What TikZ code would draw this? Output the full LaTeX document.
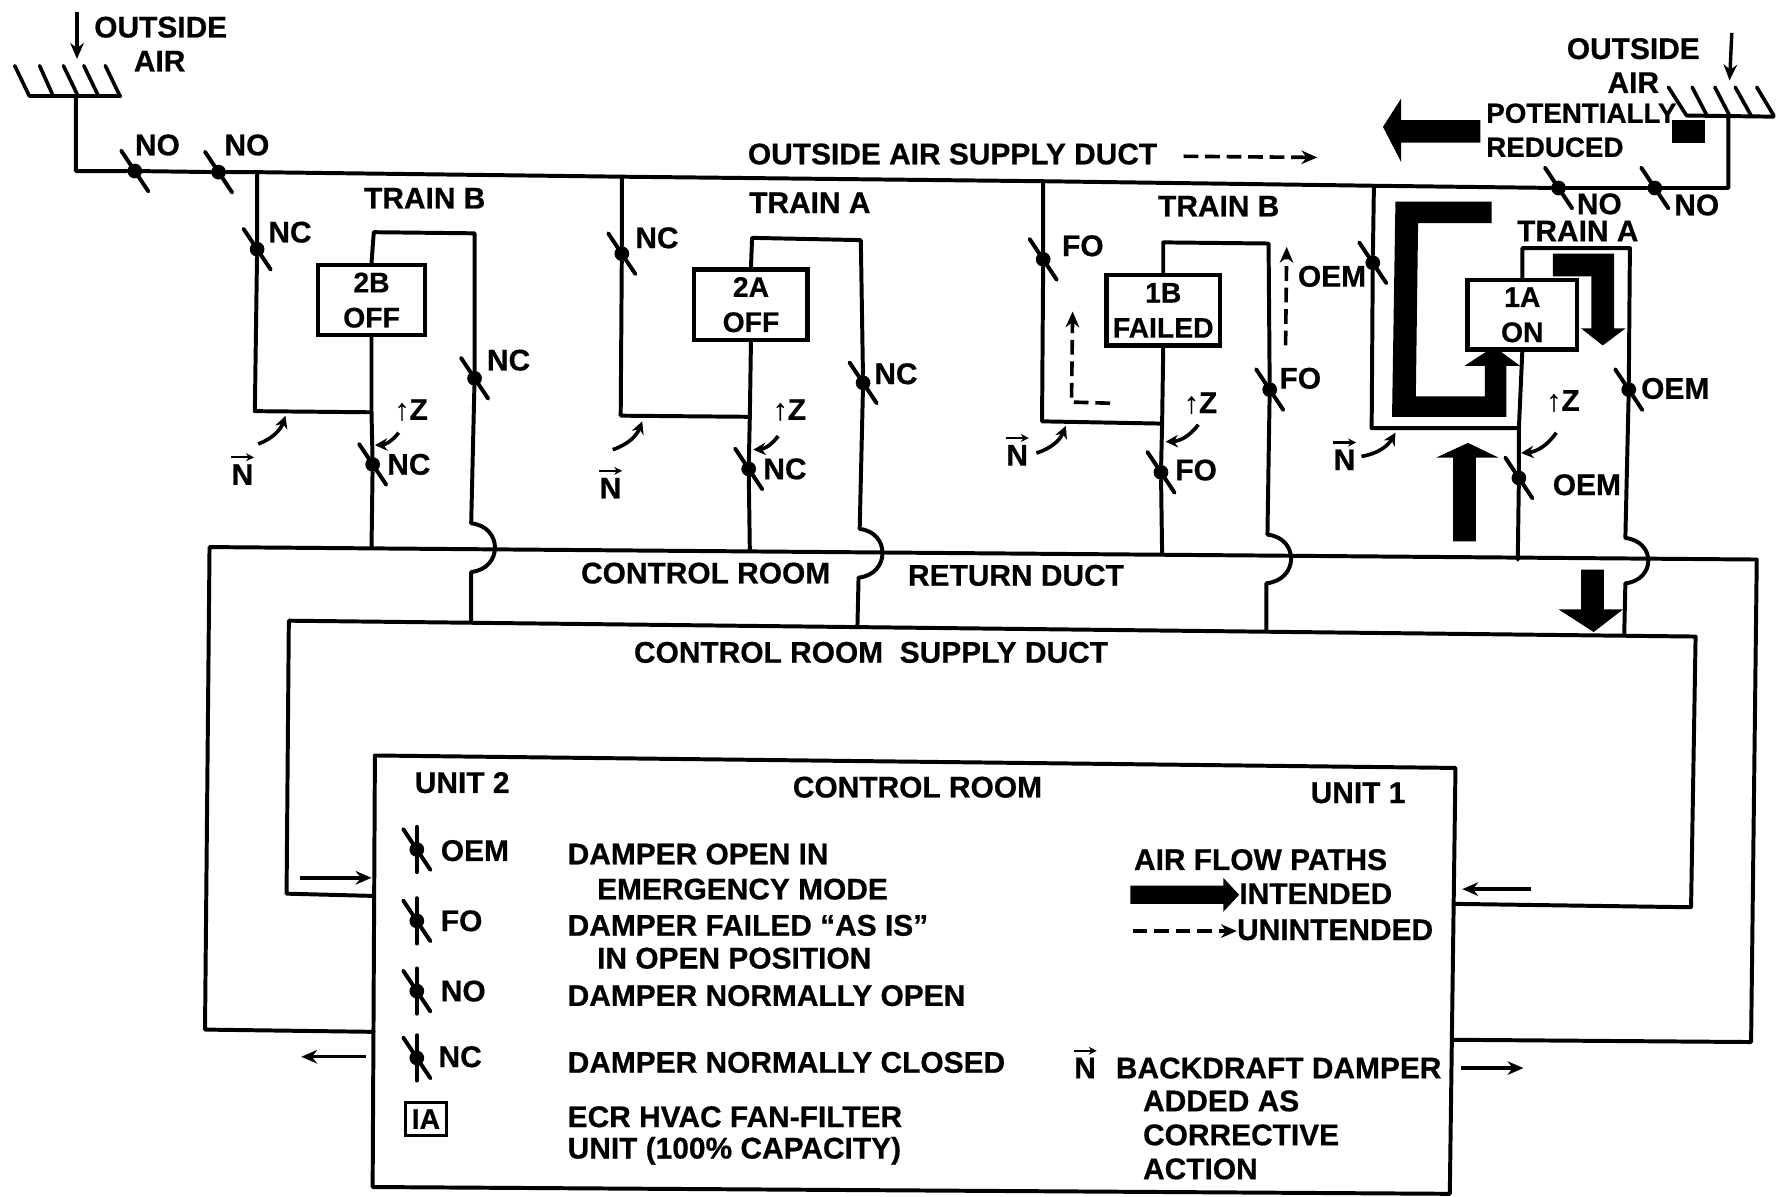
\documentclass[tikz,border=0pt]{standalone}
\usepackage{fontspec}
\setmainfont{Liberation Sans}[BoldFeatures={FakeBold=0.6}]
\usetikzlibrary{arrows.meta}
\tikzset{
  duct/.style={line width=3.5pt,line cap=round,line join=round},
  hatch/.style={line width=3.2pt,line cap=round},
  flowarrow/.style={line width=3pt,->,>={Stealth[length=14pt,width=12pt]}},
  unintended/.style={line width=3.2pt,dash pattern=on 13pt off 6pt,->,>={Stealth[length=14pt,width=12pt]}},
  bentarrow/.style={line width=3.2pt,->,>={Stealth[length=11pt,width=11pt]}},
  lbl/.style={font=\fontsize{26.4}{31}\selectfont\bfseries,inner sep=0pt,align=left},
  lblw/.style={lbl,anchor=west},
  smalllbl/.style={lblw,font=\fontsize{24.5}{31}\selectfont\bfseries},
  dmp/.style={circle,fill=black,inner sep=0pt,minimum size=13pt},
  fan/.style={draw,line width=3.8pt,fill=white,inner sep=0pt,align=center,font=\fontsize{25}{31}\selectfont\bfseries},
  heavy/.style={fill=black,draw=none}
}
% damper: the dot and its slash
\newcommand{\damper}[2]{
  \node[dmp] (#1) at (#2) {};
  \draw[duct] (#1) ++(-12,-18) -- ++(24,36);
}
% legend damper: same, with a stub of duct through it
\newcommand{\legdamper}[2]{
  \damper{#1}{#2}
  \draw[duct] (#1) ++(0,-20) -- ++(0,40);
}
% N with the arrow over it
\newcommand{\bdn}[2]{
  \node[lbl] (#1) at (#2) {N};
  \draw[line width=2pt,->,>={Stealth[length=7pt,width=7pt]}] (#1.north west) ++(0,-6) -- ++(20,0);
}
\begin{document}
\begin{tikzpicture}[x=1pt,y=-1pt]
  \useasboundingbox (0,0) rectangle (1568,1056);

  % Outside air intake, unit 2 side
  \foreach \a/\b in {13/26,35/47,56/69,74/87,93/106}
    \draw[hatch] (\a,58) -- (\b,85);
  \coordinate (intakel) at (67,85);
  \coordinate (cornerl) at (67,151);
  \coordinate (hoodla) at (27,85);
  \coordinate (hoodlb) at (106,85);
  \draw[duct] (hoodla) -- (hoodlb);
  \coordinate (airla) at (68,11);
  \coordinate (airlb) at (68,52);
  \draw[flowarrow] (airla) -- (airlb);
  \node[lblw] (outl) at (83,24) {OUTSIDE};
  \node[lblw] (airl) at (118,54) {AIR};

  % Outside air intake, unit 1 side
  \foreach \a/\b in {1473/1489,1494/1507,1514/1527,1532/1546,1551/1566}
    \draw[hatch] (\a,77) -- (\b,102);
  \coordinate (intaker) at (1526,102);
  \coordinate (cornerr) at (1526,166);
  \coordinate (hoodra) at (1489,102);
  \coordinate (hoodrb) at (1566,103);
  \draw[duct] (hoodra) -- (hoodrb);
  \coordinate (airra) at (1529,29);
  \coordinate (airrb) at (1527,71);
  \draw[flowarrow] (airra) -- (airrb);
  \node[lbl] (outr) at (1442,43) {OUTSIDE};
  \node[lbl] (airr) at (1442,73) {AIR};
  \node[smalllbl] (potent) at (1312,100) {POTENTIALLY};
  \node[smalllbl] (reduced) at (1312,130) {REDUCED};
  \fill[black] (1476,106) rectangle (1505,126);
  \fill[heavy] (1307,106) -- (1237,106) -- (1237,87) -- (1221,112) -- (1237,143) -- (1237,126) -- (1307,126) -- cycle;

  % Outside air supply duct
  \damper{nol}{119,151}
  \damper{nom}{193,152}
  \damper{nor}{1376,166}
  \damper{nos}{1461,166}
  \coordinate (j2b) at (227,152);
  \coordinate (j2a) at (549,156);
  \coordinate (j1b) at (921,160);
  \coordinate (j1a) at (1213,164);
  \draw[duct] (intakel) -- (cornerl) -- (nol) -- (nom) -- (j2b) -- (j2a) -- (j1b) -- (j1a) -- (nor) -- (nos) -- (cornerr) -- (intaker);
  \node[lbl] (nolab) at (139,128) {NO};
  \node[lbl] (nomlab) at (218,128) {NO};
  \node[lbl] (norlab) at (1412,180) {NO};
  \node[lbl] (noslab) at (1498,181) {NO};
  \node[lbl] (supplab) at (841,136) {OUTSIDE AIR SUPPLY DUCT};
  \coordinate (unia) at (1045,138);
  \coordinate (unib) at (1163,139);
  \draw[unintended] (unia) -- (unib);

  % Return and supply ducts
  \coordinate (rtl) at (185,483);
  \coordinate (rtr) at (1551,494);
  \coordinate (rbl) at (181,909);
  \coordinate (rbr) at (1546,920);
  \coordinate (rinl) at (330,911);
  \coordinate (rinr) at (1283,918);
  \draw[duct] (rinl) -- (rbl) -- (rtl) -- (rtr) -- (rbr) -- (rinr);
  \coordinate (stl) at (255,548);
  \coordinate (str) at (1497,562);
  \coordinate (sbl) at (253,789);
  \coordinate (sbr) at (1493,801);
  \coordinate (sinl) at (330,791);
  \coordinate (sinr) at (1284,798);
  \draw[duct] (sinl) -- (sbl) -- (stl) -- (str) -- (sbr) -- (sinr);
  \node[lbl] (crret) at (623,506) {CONTROL ROOM};
  \node[lbl] (retlab) at (897,508) {RETURN DUCT};
  \node[lbl] (crsup) at (769,576) {CONTROL ROOM\ \ SUPPLY DUCT};

  % Train B, unit 2
  \node[lbl] (tr2b) at (375,175) {TRAIN B};
  \node[fan,minimum width=95pt,minimum height=62pt] (fan2b) at (328,265) {2B\\OFF};
  \damper{dnc2b}{227,220}
  \damper{dfan2b}{329,410}
  \damper{dout2b}{419,334}
  \coordinate (bl2b) at (225,363);
  \coordinate (br2b) at (328,364);
  \coordinate (rj2b) at (328,484);
  \coordinate (tl2b) at (330,205);
  \coordinate (tr2bc) at (419,206);
  \coordinate (ha2b) at (416,462);
  \coordinate (hb2b) at (416,505);
  \coordinate (sj2b) at (416,549);
  \draw[duct] (j2b) -- (dnc2b) -- (bl2b) -- (br2b);
  \draw[duct] (fan2b.south) -- (br2b) -- (dfan2b) -- (rj2b);
  \draw[duct] (fan2b.north) -- (tl2b) -- (tr2bc) -- (dout2b) -- (ha2b) .. controls (444,465) and (444,502) .. (hb2b) -- (sj2b);
  \node[lbl] (ncx2b) at (256,205) {NC};
  \node[lbl] (ncf2b) at (361,410) {NC};
  \node[lbl] (nco2b) at (449,318) {NC};
  \node[lbl] (z2b) at (363,362) {↑Z};
  \bdn{n2b}{214,419}
  \draw[bentarrow] (228,392) to[bend right=25] (252,367);
  \draw[bentarrow] (352,382) to[bend left=25] (331,393);

  % Train A, unit 2
  \node[lbl] (tr2a) at (715,179) {TRAIN A};
  \node[fan,minimum width=100pt,minimum height=62pt] (fan2a) at (663,269) {2A\\OFF};
  \damper{dnc2a}{549,224}
  \damper{dfan2a}{661,414}
  \damper{dout2a}{762,338}
  \coordinate (bl2a) at (548,367);
  \coordinate (br2a) at (662,368);
  \coordinate (rj2a) at (662,486);
  \coordinate (tl2a) at (664,210);
  \coordinate (tr2ac) at (760,212);
  \coordinate (ha2a) at (759,467);
  \coordinate (hb2a) at (758,510);
  \coordinate (sj2a) at (757,553);
  \draw[duct] (j2a) -- (dnc2a) -- (bl2a) -- (br2a);
  \draw[duct] (fan2a.south) -- (br2a) -- (dfan2a) -- (rj2a);
  \draw[duct] (fan2a.north) -- (tl2a) -- (tr2ac) -- (dout2a) -- (ha2a) .. controls (786,470) and (786,507) .. (hb2a) -- (sj2a);
  \node[lbl] (ncx2a) at (580,210) {NC};
  \node[lbl] (ncf2a) at (693,414) {NC};
  \node[lbl] (nco2a) at (791,330) {NC};
  \node[lbl] (z2a) at (697,362) {↑Z};
  \bdn{n2a}{539,431}
  \draw[bentarrow] (541,397) to[bend right=25] (567,372);
  \draw[bentarrow] (687,385) to[bend left=25] (665,397);

  % Train B, unit 1
  \node[lbl] (tr1b) at (1076,182) {TRAIN B};
  \node[fan,minimum width=100pt,minimum height=62pt] (fan1b) at (1027,274) {1B\\FAILED};
  \damper{dfo1b}{921,229}
  \damper{dfan1b}{1025,417}
  \damper{dout1b}{1121,344}
  \coordinate (bl1b) at (920,372);
  \coordinate (br1b) at (1026,374);
  \coordinate (rj1b) at (1026,489);
  \coordinate (tl1b) at (1027,214);
  \coordinate (tr1bc) at (1120,215);
  \coordinate (ha1b) at (1119,472);
  \coordinate (hb1b) at (1118,515);
  \coordinate (sj1b) at (1118,557);
  \draw[duct] (j1b) -- (dfo1b) -- (bl1b) -- (br1b);
  \draw[duct] (fan1b.south) -- (br1b) -- (dfan1b) -- (rj1b);
  \draw[duct] (fan1b.north) -- (tl1b) -- (tr1bc) -- (dout1b) -- (ha1b) .. controls (1147,475) and (1147,512) .. (hb1b) -- (sj1b);
  \node[lbl] (fox1b) at (956,217) {FO};
  \node[lbl] (fof1b) at (1056,415) {FO};
  \node[lbl] (foo1b) at (1148,334) {FO};
  \node[lbl] (oem1b) at (1176,244) {OEM};
  \node[lbl] (z1b) at (1060,356) {↑Z};
  \bdn{n1b}{898,402}
  \draw[bentarrow] (915,400) to[bend right=25] (941,376);
  \draw[bentarrow] (1058,375) to[bend left=25] (1029,390);
  \draw[unintended] (980,356) -- (946,355) -- (947,275);
  \draw[unintended] (1135,305) -- (1136,218);

  % Train A, unit 1, the one running
  \node[lbl] (tr1a) at (1393,204) {TRAIN A};
  \fill[heavy] (1317,178) -- (1232,178) -- (1229,368) -- (1330,368) -- (1330,323) -- (1342,323) -- (1319,306) -- (1293,323) -- (1311,323) -- (1311,350) -- (1250,350) -- (1252,197) -- (1317,197) -- cycle;
  \fill[heavy] (1371,224) -- (1425,224) -- (1425,290) -- (1435,290) -- (1415,305) -- (1396,290) -- (1405,290) -- (1405,244) -- (1371,244) -- cycle;
  \fill[heavy] (1283,478) -- (1283,404) -- (1268,404) -- (1296,391) -- (1323,404) -- (1303,404) -- (1303,478) -- cycle;
  \fill[heavy] (1396,503) -- (1396,538) -- (1376,538) -- (1407,558) -- (1433,538) -- (1416,538) -- (1416,503) -- cycle;
  \node[fan,minimum width=97pt,minimum height=61pt] (fan1a) at (1344,278) {1A\\ON};
  \damper{doem1a}{1212,232}
  \damper{dfan1a}{1341,422}
  \damper{dout1a}{1438,344}
  \coordinate (bl1a) at (1211,378);
  \coordinate (br1a) at (1341,378);
  \coordinate (rj1a) at (1340,494);
  \coordinate (tl1a) at (1344,219);
  \coordinate (tr1ac) at (1439,219);
  \coordinate (ha1a) at (1435,475);
  \coordinate (hb1a) at (1435,515);
  \coordinate (sj1a) at (1434,560);
  \draw[duct] (j1a) -- (doem1a) -- (bl1a) -- (br1a);
  \draw[duct] (fan1a.south) -- (br1a) -- (dfan1a) -- (rj1a);
  \draw[duct] (fan1a.north) -- (tl1a) -- (tr1ac) -- (dout1a) -- (ha1a) .. controls (1462,478) and (1462,512) .. (hb1a) -- (sj1a);
  \node[lbl] (oemf1a) at (1401,428) {OEM};
  \node[lbl] (oemo1a) at (1479,343) {OEM};
  \node[lbl] (z1a) at (1380,354) {↑Z};
  \bdn{n1a}{1187,406}
  \draw[bentarrow] (1202,403) to[bend right=25] (1232,382);
  \draw[bentarrow] (1374,382) to[bend left=25] (1343,400);

  % Control room and its legend
  \draw[duct] (331,667) -- (1285,678) -- (1280,1054) -- (329,1048) -- cycle;
  \node[lbl] (unit2) at (408,691) {UNIT 2};
  \node[lbl] (crlab) at (810,695) {CONTROL ROOM};
  \node[lbl] (unit1) at (1199,700) {UNIT 1};
  \legdamper{legoem}{368,750}
  \legdamper{legfo}{368,813}
  \legdamper{legno}{368,875}
  \legdamper{legnc}{368,934}
  \node[lblw] (toem) at (389,751) {OEM};
  \node[lblw] (tfo) at (389,813) {FO};
  \node[lblw] (tno) at (389,875) {NO};
  \node[lblw] (tnc) at (387,933) {NC};
  \node[fan,line width=3pt,minimum width=36pt,minimum height=29pt] (legfan) at (376,988) {IA};
  \node[lblw] (d1) at (501,754) {DAMPER OPEN IN};
  \node[lblw] (d2) at (527,785) {EMERGENCY MODE};
  \node[lblw] (d3) at (501,817) {DAMPER FAILED ``AS IS''};
  \node[lblw] (d4) at (527,846) {IN OPEN POSITION};
  \node[lblw] (d5) at (501,879) {DAMPER NORMALLY OPEN};
  \node[lblw] (d6) at (501,938) {DAMPER NORMALLY CLOSED};
  \node[lblw] (d7) at (501,986) {ECR HVAC FAN-FILTER};
  \node[lblw] (d8) at (501,1016) {UNIT (100\% CAPACITY)};
  \node[lblw] (paths) at (1001,759) {AIR FLOW PATHS};
  \fill[heavy] (998,782) -- (1080,782) -- (1080,775) -- (1094,790) -- (1080,805) -- (1080,798) -- (998,798) -- cycle;
  \node[lblw] (intend) at (1094,789) {INTENDED};
  \coordinate (legua) at (1000,822);
  \coordinate (legub) at (1092,822);
  \draw[unintended] (legua) -- (legub);
  \node[lblw] (unint) at (1092,821) {UNINTENDED};
  \bdn{legn}{958,943}
  \node[lblw] (b1) at (985,943) {BACKDRAFT DAMPER};
  \node[lblw] (b2) at (1009,972) {ADDED AS};
  \node[lblw] (b3) at (1009,1002) {CORRECTIVE};
  \node[lblw] (b4) at (1009,1032) {ACTION};

  % Small flow arrows at the control room walls
  \coordinate (fa1) at (265,775);
  \coordinate (fa2) at (328,775);
  \coordinate (fb1) at (1352,785);
  \coordinate (fb2) at (1291,785);
  \coordinate (fc1) at (323,933);
  \coordinate (fc2) at (266,933);
  \coordinate (fd1) at (1290,943);
  \coordinate (fd2) at (1345,943);
  \draw[flowarrow] (fa1) -- (fa2);
  \draw[flowarrow] (fb1) -- (fb2);
  \draw[flowarrow] (fc1) -- (fc2);
  \draw[flowarrow] (fd1) -- (fd2);
\end{tikzpicture}
\end{document}
